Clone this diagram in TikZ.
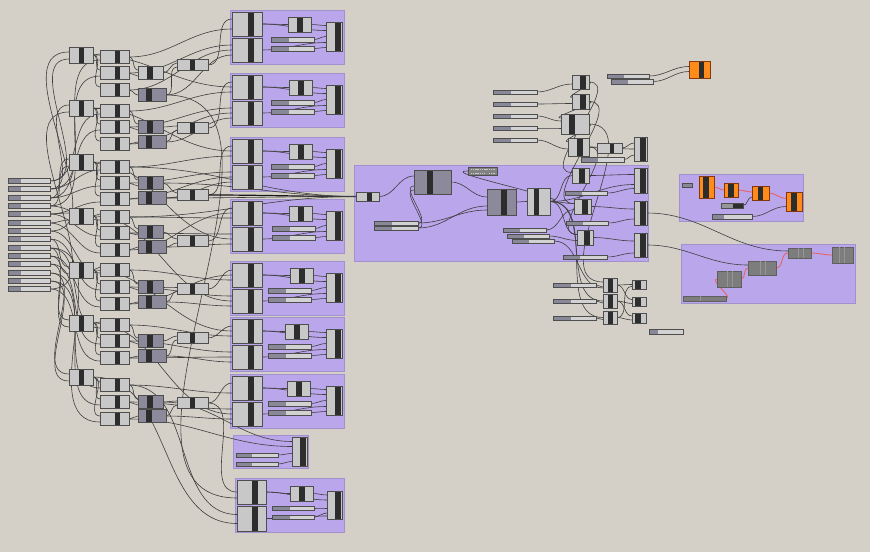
\documentclass[tikz,border=0pt]{standalone}
\usetikzlibrary{calc}
\pgfdeclarelayer{bgl}
\pgfdeclarelayer{grp}
\pgfdeclarelayer{wires}
\pgfsetlayers{bgl,grp,wires,main}
\definecolor{bg}{RGB}{212,208,200}
\definecolor{grpf}{RGB}{186,166,234}
\definecolor{grpd}{RGB}{160,146,205}
\definecolor{cl}{RGB}{200,200,200}
\definecolor{cb}{RGB}{78,78,78}
\definecolor{cbar}{RGB}{45,45,45}
\definecolor{cdk}{RGB}{140,138,154}
\definecolor{sdk}{RGB}{136,136,152}
\definecolor{sl}{RGB}{210,210,210}
\definecolor{orng}{RGB}{255,140,26}
\definecolor{orb}{RGB}{130,55,15}
\definecolor{gry}{RGB}{125,125,125}
\definecolor{gryb}{RGB}{95,95,95}
\definecolor{gryl}{RGB}{150,150,150}
\definecolor{wr}{RGB}{62,62,62}
\definecolor{rw}{RGB}{232,100,100}
\definecolor{pnlc}{RGB}{130,130,130}
\tikzset{
  box/.style={draw=cb, line width=0.7pt, inner sep=0pt, outer sep=0pt, rectangle},
  grpbox/.style={draw=grpd, fill=grpf, line width=1pt, inner sep=0pt, outer sep=0pt, rectangle},
  wire/.style={draw=wr, line width=0.6pt, out=0, in=180},
  owire/.style={draw=black!90, line width=1.2pt, out=0, in=180},
  rwire/.style={draw=rw, line width=0.9pt, out=0, in=180},
}
\newcommand\cmp[8][cl]{%
  \node[box, fill=#1, minimum width={(#5)-(#3)}, minimum height={(#6)-(#4)}] (#2) at ({((#3)+(#5))/2},{((#4)+(#6))/2}) {};
  \fill[cbar] ({#7},{#4}) rectangle ({#8},{#6});
  \draw[cb, line width=0.7pt] ({#3},{#4}) rectangle ({#5},{#6});
}
\newcommand\ocmp[7]{%
  \node[box, draw=orb, fill=orng, minimum width={(#4)-(#2)}, minimum height={(#5)-(#3)}] (#1) at ({((#2)+(#4))/2},{((#3)+(#5))/2}) {};
  \fill[cbar] ({#6},{#3}) rectangle ({#7},{#5});
  \draw[orb, line width=0.8pt] ({#2},{#3}) rectangle ({#4},{#5});
}
\newcommand\sld[6]{%
  \node[box, fill=sl, minimum width={(#4)-(#2)}, minimum height={(#5)-(#3)}] (#1) at ({((#2)+(#4))/2},{((#3)+(#5))/2}) {};
  \fill[sdk] ({#2},{#3}) rectangle ({#6},{#5});
  \draw[cb, line width=0.6pt] ({#2},{#3}) rectangle ({#4},{#5});
}
\newcommand\gcmp[7]{%
  \node[box, draw=gryb, fill=gry, minimum width={(#4)-(#2)}, minimum height={(#5)-(#3)}] (#1) at ({((#2)+(#4))/2},{((#3)+(#5))/2}) {};
  \draw[gryl, line width=0.6pt] ({#6},{#3}) -- ({#6},{#5}) ({#7},{#3}) -- ({#7},{#5});
}
\newcommand\wi[3]{\draw[wire] (#1.east) to ($(#2.west)+(0,#3)$);}
\newcommand\grp[4]{%
  \begin{pgfonlayer}{grp}
    \node[grpbox, minimum width=114, minimum height=54] (g#1) at (287,{(#2)+27}) {};
  \end{pgfonlayer}
  \cmp{g#1b1}{232}{(#2)+2}{262}{(#2)+26}{248}{254}
  \cmp{g#1b2}{232}{(#2)+28}{262}{(#2)+52}{248}{254}
  \cmp{g#1s}{#3}{(#2)+7}{(#3)+23}{(#2)+22}{(#3)+9}{(#3)+15}
  \sld{g#1l1}{#4}{(#2)+27}{(#4)+43}{(#2)+32}{(#4)+18}
  \sld{g#1l2}{#4}{(#2)+36}{(#4)+43}{(#2)+41}{(#4)+18}
  \cmp{g#1o}{326}{(#2)+12}{342}{(#2)+41}{335}{341}
  \begin{pgfonlayer}{wires}
    \wi{g#1b1}{g#1s}{0}
    \wi{g#1s}{g#1o}{-11}
    \wi{g#1b1}{g#1o}{-6}
    \wi{g#1l1}{g#1o}{0}
    \wi{g#1l2}{g#1o}{11}
    \wi{g#1b2}{g#1o}{6}
  \end{pgfonlayer}
}
\begin{document}
\begin{tikzpicture}[x=1pt,y=-1pt]
\useasboundingbox (0,0) rectangle (870,552);
\begin{pgfonlayer}{bgl}
  \fill[bg] (0,0) rectangle (870,552);
\end{pgfonlayer}
% ---------- left columns ----------
\foreach \yy [count=\i] in {181,189,198,206,214,223,231,239,248,256,264,273,281,289}
  {\sld{s\i}{8}{\yy-2.5}{50}{\yy+2.5}{21}}
\foreach \yy [count=\i] in {55,108,162,216,270,323,377}
  {\cmp{a\i}{69}{\yy-8}{93}{\yy+8}{79}{84}}
\foreach \yy [count=\i] in {57,73,90,111,127,144,167,183,199,217,233,250,270,287,304,325,341,358,385,402,419}
  {\cmp{b\i}{100}{\yy-6.5}{129}{\yy+6.5}{115}{120}}
\cmp{c1}{138}{66.5}{163}{79.5}{147}{153}
\foreach \i/\yy in {3/127,5/183,7/232,9/287,11/341,13/402}
  {\cmp[cdk]{c\i}{138}{\yy-6.5}{163}{\yy+6.5}{147}{153}}
\foreach \i/\yy in {2/95,4/142,6/198,8/247,10/302,12/356,14/416}
  {\cmp[cdk]{c\i}{138}{\yy-6.5}{166}{\yy+6.5}{146}{152}}
\foreach \yy [count=\i] in {65,128,195,241,289,338,403}
  {\cmp{d\i}{177}{\yy-5.5}{208}{\yy+5.5}{190}{195}}
% ---------- groups ----------
\grp{1}{10}{288}{271}
\grp{2}{73}{289}{271}
\grp{3}{137}{289}{271}
\grp{4}{199}{289}{272}
\grp{5}{261}{290}{268}
\grp{6}{317}{285}{268}
\grp{7}{374}{287}{268}
\begin{pgfonlayer}{grp}
  \node[grpbox, minimum width=75, minimum height=33] (g8) at (270.5,451.5) {};
  \node[grpbox, minimum width=109, minimum height=54] (g9) at (289.5,505) {};
  \node[grpbox, minimum width=294, minimum height=96] (cg) at (501,213) {};
  \node[grpbox, minimum width=124, minimum height=47] (gr1) at (741,197.5) {};
  \node[grpbox, minimum width=174, minimum height=59] (gr2) at (768,273.5) {};
\end{pgfonlayer}
\cmp{g8o}{292}{437}{307}{466}{300}{306}
\sld{g8l1}{236}{453}{278}{457}{252}
\sld{g8l2}{236}{462}{278}{466}{252}
\cmp{g9b1}{237}{480}{266}{504}{252}{258}
\cmp{g9b2}{237}{506}{266}{531}{252}{258}
\cmp{g9s}{290}{486}{313}{501}{299}{305}
\sld{g9l1}{272}{506}{314}{510}{290}
\sld{g9l2}{272}{515}{314}{519}{290}
\cmp{g9o}{327}{491}{342}{519}{335}{341}
% ---------- central group ----------
\cmp{cA}{356}{192}{379}{201}{367}{372}
\cmp[cdk]{cD1}{414}{170}{451}{194}{427}{433}
\node[box, fill=pnlc, minimum width=29, minimum height=8] (pnl) at (482.5,171) {};
\draw[cl, line width=0.9pt, dash pattern=on 1.2pt off 0.6pt] (471,169.3) -- (495,169.3) (471,173) -- (484,173) (489,173) -- (495,173);
\sld{csl1}{374}{221}{418}{225}{392}
\sld{csl2}{374}{226}{418}{230}{392}
\cmp[cdk]{cD2}{487}{189}{516}{215}{501}{507}
\cmp{cL3}{527}{188}{550}{215}{534}{539}
\sld{csl3}{503}{228}{546}{232}{520}
\sld{csl4}{507}{234}{549}{238}{524}
\sld{csl5}{512}{239}{554}{243}{529}
\cmp{cr1}{572}{168}{589}{183}{579}{585}
\cmp{cr2}{574}{199}{591}{214}{582}{588}
\cmp{cr3}{577}{230}{593}{245}{584}{590}
\sld{crs1}{565}{191}{607}{195}{582}
\sld{crs2}{566}{221}{608}{225}{583}
\sld{crs3}{563}{255}{607}{259}{580}
\cmp{co1}{634}{168}{647}{193}{640}{646}
\cmp{co2}{634}{201}{647}{225}{640}{646}
\cmp{co3}{634}{233}{647}{257}{640}{646}
% ---------- upper right ----------
\foreach \yy [count=\i] in {92,104,116,128,140}
  {\sld{us\i}{493}{\yy-2}{537}{\yy+2}{511}}
\cmp{uc1}{572}{75}{589}{89}{580}{586}
\cmp{uc2}{572}{94}{589}{109}{580}{586}
\cmp{uc3}{561}{114}{589}{134}{569}{575}
\cmp{uc4}{568}{138}{589}{156}{577}{583}
\cmp{uc5}{597}{143}{622}{153}{610}{614}
\sld{us6}{581}{157}{624}{162}{598}
\cmp{uo}{634}{137}{647}{161}{640}{646}
\sld{ts1}{607}{74}{649}{78}{624}
\sld{ts2}{611}{79}{653}{84}{628}
\ocmp{o0}{689}{61}{710}{78}{699}{704}
% ---------- lower cluster ----------
\sld{ls1}{553}{283}{596}{287}{571}
\sld{ls2}{553}{299}{596}{303}{571}
\sld{ls3}{553}{316}{596}{320}{571}
\cmp{lc1}{603}{278}{617}{292}{608}{613}
\cmp{lc2}{603}{294}{617}{308}{608}{613}
\cmp{lc3}{603}{311}{617}{324}{608}{613}
\cmp{lo1}{632}{280}{646}{289}{635}{641}
\cmp{lo2}{632}{297}{646}{306}{635}{641}
\cmp{lo3}{632}{313}{646}{323}{635}{641}
\sld{ls4}{649}{329}{683}{334}{658}
% ---------- right group 1 ----------
\node[box, fill=sdk, minimum width=10, minimum height=4] (gsm) at (687,185) {};
\ocmp{or1}{699}{176}{714}{198}{703}{709}
\ocmp{or2}{724}{183}{738}{197}{728}{734}
\ocmp{or3}{752}{186}{769}{200}{758}{763}
\ocmp{or4}{786}{192}{802}{211}{791}{797}
\node[box, fill=gryl, minimum width=22, minimum height=5] (bsl) at (732,205.5) {};
\fill[cbar] (733,203) rectangle (743,208);
\draw[cb, line width=0.6pt] (721,203) rectangle (743,208);
\sld{gsl}{712}{214}{752}{219}{724}
% ---------- right group 2 ----------
\gcmp{gc1}{717}{271}{741}{287}{727}{732}
\gcmp{gc2}{748}{261}{776}{275}{760}{765}
\gcmp{gc3}{788}{248}{811}{258}{798}{803}
\gcmp{gc4}{832}{247}{853}{263}{839}{844}
\node[box, draw=gryb, fill=gry, minimum width=43, minimum height=5] (gs) at (704.5,298.5) {};
\draw[gryl, line width=0.5pt] (700,296) -- (700,301);
% ================= wires =================
\begin{pgfonlayer}{wires}
% sliders -> A
\wi{s1}{a1}{4} \wi{s7}{a1}{-3} \wi{s2}{a2}{-3} \wi{s14}{a2}{4}
\wi{s3}{a3}{-3} \wi{s4}{a3}{4} \wi{s5}{a4}{-3} \wi{s6}{a4}{4}
\wi{s8}{a5}{-3} \wi{s9}{a5}{4} \wi{s10}{a6}{-3} \wi{s11}{a6}{4}
\wi{s12}{a7}{-3} \wi{s13}{a7}{4}
% A -> B
\foreach \i in {1,...,7}{%
  \pgfmathtruncatemacro\j{3*\i-2}\pgfmathtruncatemacro\k{3*\i-1}\pgfmathtruncatemacro\l{3*\i}
  \wi{a\i}{b\j}{-3} \wi{a\i}{b\k}{-3} \wi{a\i}{b\l}{-3}}
% sliders -> B
\wi{s1}{b4}{3} \wi{s2}{b7}{3} \wi{s3}{b8}{3} \wi{s4}{b10}{3} \wi{s5}{b11}{3}
\wi{s6}{b12}{3} \wi{s7}{b13}{3} \wi{s8}{b14}{3} \wi{s9}{b16}{3} \wi{s10}{b15}{3}
\wi{s11}{b17}{3} \wi{s12}{b19}{3} \wi{s13}{b20}{3} \wi{s14}{b18}{3}
\wi{s3}{b5}{3} \wi{s5}{b9}{3} \wi{s9}{b21}{3} \wi{s2}{b1}{3} \wi{s4}{b2}{3}
% B -> C
\wi{b1}{c1}{-3} \wi{b2}{c1}{3} \wi{b3}{c2}{0}
\wi{b4}{c3}{-3} \wi{b5}{c3}{3} \wi{b6}{c4}{0}
\wi{b7}{c5}{-3} \wi{b8}{c5}{3} \wi{b9}{c6}{0}
\wi{b10}{c7}{-3} \wi{b11}{c7}{3} \wi{b12}{c8}{0}
\wi{b13}{c9}{-3} \wi{b14}{c9}{3} \wi{b15}{c10}{0}
\wi{b16}{c11}{-3} \wi{b17}{c11}{3} \wi{b18}{c12}{0}
\wi{b19}{c13}{-3} \wi{b20}{c13}{3} \wi{b21}{c14}{0}
% C -> D
\foreach \i in {1,...,7}{%
  \pgfmathtruncatemacro\j{2*\i-1}\pgfmathtruncatemacro\k{2*\i}
  \wi{c\j}{d\i}{-2} \wi{c\k}{d\i}{2}}
% into groups
\foreach \i in {1,...,7}{%
  \pgfmathtruncatemacro\j{3*\i-2}\pgfmathtruncatemacro\k{3*\i-1}\pgfmathtruncatemacro\m{2*\i}
  \wi{d\i}{g\i b1}{-5} \wi{b\j}{g\i b1}{5} \wi{b\k}{g\i b2}{-5} \wi{c\m}{g\i b2}{5}}
\wi{a1}{g2b1}{0} \wi{a2}{g3b1}{0} \wi{a3}{g4b2}{0} \wi{a4}{g5b2}{0} \wi{a5}{g6b1}{0} \wi{a6}{g7b2}{0}
\wi{b3}{g1b2}{0} \wi{b6}{g2b2}{0} \wi{b9}{g3b2}{0} \wi{b12}{g4b1}{0} \wi{b15}{g5b1}{0} \wi{b18}{g6b2}{0}
\wi{c13}{g8o}{-10} \wi{b21}{g8o}{-5}
\wi{d7}{g9b1}{0} \wi{b19}{g9b2}{-4} \wi{a7}{g9b2}{5} \wi{c2}{g9b1}{6}
\wi{g8l1}{g8o}{2} \wi{g8l2}{g8o}{10}
\wi{g9b1}{g9s}{0} \wi{g9s}{g9o}{-10} \wi{g9b1}{g9o}{-5} \wi{g9l1}{g9o}{3} \wi{g9l2}{g9o}{8} \wi{g9b2}{g9o}{11}
% into the central group
\draw[owire] (d3.east) to (cA.west);
\wi{c5}{cA}{0} \wi{b7}{cA}{0} \wi{c6}{cA}{0} \wi{b10}{cA}{0}
% central
\wi{cA}{cD1}{-6} \wi{csl1}{cD1}{4} \wi{csl2}{cD1}{8}
\wi{cD1}{cD2}{-5} \wi{csl1}{cD2}{8} \wi{csl2}{cD2}{4}
\wi{cD2}{cL3}{0}
\wi{cL3}{cr1}{0} \wi{cL3}{cr2}{-3} \wi{cL3}{cr3}{-3} \wi{cL3}{co1}{4}
\wi{cL3}{lc2}{0} \wi{cL3}{lc3}{0} \wi{cL3}{pnl}{0}
\wi{csl3}{cr2}{3} \wi{csl4}{cr3}{3} \wi{csl5}{lc1}{3}
\wi{crs1}{co1}{8} \wi{cr1}{co1}{-6} \wi{cr2}{co2}{-4} \wi{crs2}{co2}{6}
\wi{cr3}{co3}{-4} \wi{crs3}{co3}{8}
% upper right
\wi{us1}{uc1}{2} \wi{us2}{uc2}{2} \wi{us3}{uc3}{-3} \wi{us4}{uc3}{4} \wi{us5}{uc4}{2}
\wi{uc1}{uc2}{-4} \wi{uc2}{uc3}{-6} \wi{uc3}{uc4}{-5}
\wi{uc4}{uc5}{0} \wi{uc5}{uo}{-6} \wi{us6}{uo}{6} \wi{uc4}{uo}{0}
\wi{uc1}{cr1}{-3} \wi{uc2}{cr2}{-3} \wi{uc3}{lc1}{-3} \wi{uc4}{cr3}{-3}
\wi{ts1}{o0}{-3} \wi{ts2}{o0}{2}
% lower
\wi{ls1}{lc1}{2} \wi{ls2}{lc2}{2} \wi{ls3}{lc3}{2}
\wi{lc1}{lo1}{0} \wi{lc1}{lo2}{-2} \wi{lc2}{lo2}{2} \wi{lc2}{lo3}{-2} \wi{lc3}{lo3}{2} \wi{lc3}{lo1}{2}
% right groups
\draw[rwire] (or1.east) to (or2.west);
\draw[rwire] (or2.east) to ($(or3.west)+(0,-1)$);
\draw[rwire] (or3.east) to ($(or4.west)+(0,-3)$);
\wi{bsl}{or3}{4} \wi{gsl}{or4}{5}
\draw[rwire] (gs.east) to (gc1.west);
\draw[rwire] (gc1.east) to (gc2.west);
\draw[rwire] (gc2.east) to (gc3.west);
\draw[rwire] (gc3.east) to (gc4.west);
\wi{co2}{gc3}{-2} \wi{co3}{gc2}{-3}
\end{pgfonlayer}
\end{tikzpicture}
\end{document}
